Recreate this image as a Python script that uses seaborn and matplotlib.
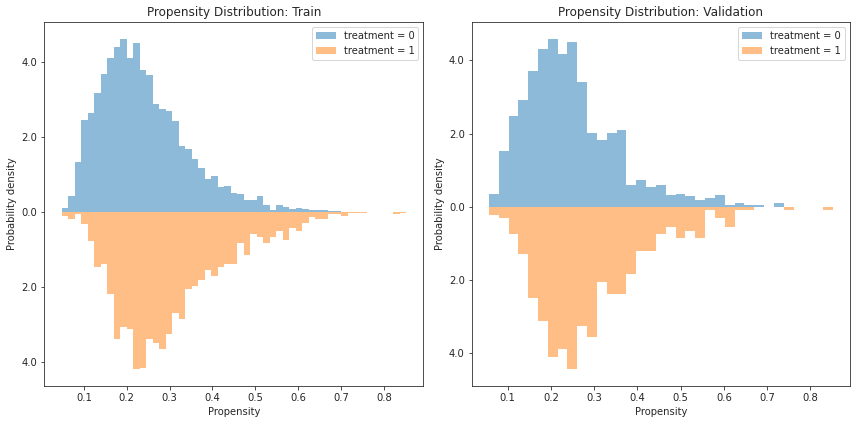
import numpy as np
import pandas as pd
import matplotlib
matplotlib.use("Agg")
import matplotlib.pyplot as plt
from matplotlib.ticker import FuncFormatter
import seaborn as sns

# ---- data ----
train_range = (0.048, 0.852)
train_bins = 53
train_t0 = [0.11, 0.43, 1.34, 2.46, 2.63, 3.17, 3.68, 4.11, 4.41, 4.62,
            4.11, 4.52, 3.79, 3.66, 2.88, 2.74, 2.69, 2.42, 1.77, 1.69,
            1.42, 1.18, 0.89, 0.97, 0.67, 0.70, 0.51, 0.48, 0.32, 0.32,
            0.43, 0.19, 0.05, 0.19, 0.13, 0.08, 0.11, 0.08, 0.05, 0.05,
            0.05, 0.03, 0.03, 0, 0, 0, 0, 0, 0, 0,
            0, 0, 0]
train_t1 = [0.12, 0.20, 0.07, 0.32, 0.77, 1.46, 1.38, 2.20, 3.40, 3.07,
            3.14, 4.20, 4.18, 3.40, 3.51, 3.67, 3.27, 2.71, 2.87, 2.07,
            1.99, 1.83, 1.56, 1.72, 1.46, 1.38, 1.38, 0.84, 1.14, 0.60,
            0.68, 0.84, 0.66, 0.50, 0.74, 0.44, 0.52, 0.31, 0.15, 0.20,
            0.20, 0.07, 0.07, 0.12, 0.04, 0.04, 0.04, 0, 0, 0,
            0, 0.07, 0.04]

val_range = (0.0567, 0.8517)
val_bins = 35
val_t0 = [0.35, 1.52, 2.48, 2.92, 3.72, 4.32, 4.59, 4.18, 4.49, 3.41,
          2.01, 1.82, 2.01, 2.10, 0.59, 0.72, 0.54, 0.59, 0.32, 0.35,
          0.29, 0.18, 0.24, 0.32, 0.05, 0.10, 0.05, 0.05, 0, 0.10,
          0, 0, 0, 0, 0]
val_t1 = [0.22, 0.32, 0.75, 1.30, 2.50, 3.13, 4.11, 3.89, 4.44, 3.25,
          3.56, 2.06, 2.39, 2.39, 1.85, 1.20, 1.20, 0.75, 0.54, 0.86,
          0.65, 0.86, 0.10, 0.32, 0.54, 0.10, 0.10, 0, 0, 0,
          0.10, 0, 0, 0, 0.10]

titles = ["Propensity Distribution: Train", "Propensity Distribution: Validation"]
labels = ["treatment = 0", "treatment = 1"]

sns.set_style("ticks")
plt.rcParams['font.family'] = ['DejaVu Sans']

fig = plt.figure(figsize=(856 / 72, 424 / 72), dpi=72)
ax1 = fig.add_axes([0.0518, 0.0903, 0.4428, 0.8571])
ax2 = fig.add_axes([0.5510, 0.0903, 0.4420, 0.8571])

panels = [
    (ax1, train_range, train_bins, train_t0, train_t1, titles[0]),
    (ax2, val_range, val_bins, val_t0, val_t1, titles[1]),
]

for ax, rng, nb, t0, t1, title in panels:
    edges = np.linspace(rng[0], rng[1], nb + 1)
    centers = (edges[:-1] + edges[1:]) / 2
    df = pd.DataFrame({"p": centers,
                       "t0": np.asarray(t0, dtype=float),
                       "t1": -np.asarray(t1, dtype=float)})
    sns.histplot(data=df, x="p", weights="t0", bins=nb, binrange=rng,
                 color="C0", alpha=0.5, linewidth=0, label=labels[0], ax=ax)
    sns.histplot(data=df, x="p", weights="t1", bins=nb, binrange=rng,
                 color="C1", alpha=0.5, linewidth=0, label=labels[1], ax=ax)
    ax.margins(x=0.05, y=0.05)
    ax.relim()
    ax.autoscale()
    ax.set_title(title, fontsize=12)
    ax.set_xlabel("Propensity", fontsize=10)
    ax.set_ylabel("Probability density", fontsize=10)
    ax.yaxis.set_major_formatter(FuncFormatter(lambda v, pos: f"{abs(v):.1f}"))
    ax.tick_params(labelsize=10)
    ax.legend(loc="upper right", fontsize=10)

fig.savefig("out.png", dpi=72)
